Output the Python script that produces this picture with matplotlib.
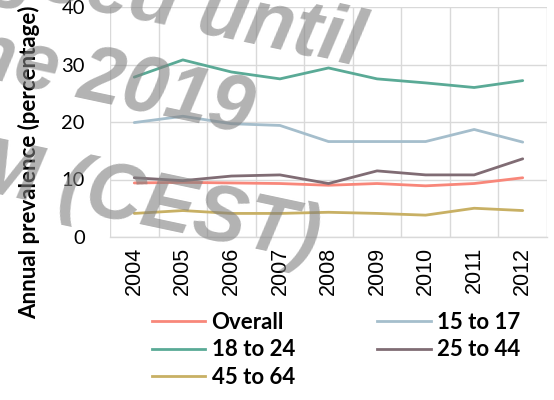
import math
import matplotlib
matplotlib.use("Agg")
import matplotlib.pyplot as plt
from matplotlib.lines import Line2D
from matplotlib import font_manager as fm
from matplotlib.textpath import TextToPath, TextPath

years = ["2004", "2005", "2006", "2007", "2008", "2009", "2010", "2011", "2012"]
overall = [9.4, 9.5, 9.4, 9.3, 9.0, 9.3, 8.9, 9.3, 10.3]
age_15_17 = [19.9, 21.0, 19.7, 19.4, 16.6, 16.6, 16.6, 18.7, 16.5]
age_18_24 = [27.8, 30.8, 28.7, 27.5, 29.4, 27.5, 26.8, 26.0, 27.2]
age_25_44 = [10.3, 9.8, 10.6, 10.8, 9.3, 11.5, 10.8, 10.8, 13.6]
age_45_64 = [4.1, 4.6, 4.1, 4.1, 4.3, 4.1, 3.8, 5.0, 4.6]

series = [
    ("Overall", overall, "#F8877A"),
    ("15 to 17", age_15_17, "#A5BECC"),
    ("18 to 24", age_18_24, "#5AAA96"),
    ("25 to 44", age_25_44, "#806C74"),
    ("45 to 64", age_45_64, "#C8B064"),
]

watermark_lines = ["Embargoed until", "June 2019", "11:00 AM (CEST)"]

W, H = 554, 400
DPI = 100
fig = plt.figure(figsize=(W / DPI, H / DPI), dpi=DPI)
ax = fig.add_axes([110 / W, 1 - 237 / H, 437 / W, 230 / H])

x = list(range(len(years)))
handles = {}
for name, vals, col in series:
    ax.plot(x, vals, color=col, lw=2.0, solid_capstyle="round", zorder=3)
    handles[name] = Line2D([0], [0], color=col, lw=2.0)

ax.set_xlim(-0.5, len(years) - 0.5)
ax.set_ylim(0, 40)
ax.set_yticks([0, 10, 20, 30, 40])
ax.set_xticks(x)
ax.set_xticklabels(years, rotation=90, fontsize=15.5, family="Liberation Sans")
ax.set_xticks([i - 0.5 for i in range(len(years) + 1)], minor=True)
for lab in ax.get_yticklabels():
    lab.set_family("Lato")
    lab.set_fontsize(14.5)
ax.tick_params(axis="y", length=0, pad=18)
ax.tick_params(axis="x", which="both", length=0, pad=7)
ax.grid(axis="y", which="major", color="#D9D9D9", lw=1.0)
ax.grid(axis="x", which="minor", color="#D9D9D9", lw=1.0)
ax.set_axisbelow(True)
for s in ["top", "right", "left"]:
    ax.spines[s].set_visible(False)
ax.spines["bottom"].set_color("#D9D9D9")
ax.spines["bottom"].set_linewidth(1.0)

fig.text(29 / W, 1 - 162 / H, "Annual prevalence (percentage)", rotation=90,
         ha="center", va="center", fontsize=16, fontweight="bold", family="Lato")

order = ["Overall", "18 to 24", "45 to 64", "15 to 17", "25 to 44"]
fig.legend([handles[k] for k in order], order, ncol=2, frameon=False,
           loc="center", bbox_to_anchor=(336 / W, 1 - 350 / H),
           prop={"family": "Lato", "weight": "bold", "size": 16},
           handlelength=2.4, handletextpad=0.3, columnspacing=3.7,
           labelspacing=0.3)

# ---- watermark (Arial-like bold italic, semi-transparent grey) ----
WM_SIZE = 57
WM_ROT = 12
wm_path = None
for f in fm.findSystemFonts():
    if "LiberationSans-BoldItalic" in f:
        wm_path = f
        break
if wm_path:
    wm_prop = fm.FontProperties(fname=wm_path, size=WM_SIZE)
else:
    wm_prop = fm.FontProperties(family="DejaVu Sans", weight="bold", style="italic",
                                size=WM_SIZE * 0.85)

em_px = WM_SIZE * DPI / 72.0
ARIAL_B = {"J": .556, "u": .611, "n": .611, "e": .556, " ": .278, "0": .556, "1": .556,
           "2": .556, "9": .556, "E": .667, "m": .889, "b": .611, "a": .556, "r": .389,
           "g": .611, "o": .611, "d": .611, "t": .333, "i": .278, "l": .278, ":": .333,
           "A": .722, "M": .833, "(": .333, "C": .722, "S": .667, "T": .611, ")": .333}


def glyph_offset_em(s, idx):
    try:
        ttp = TextToPath()
        font = ttp._get_font(wm_prop)
        info, _, _ = ttp.get_glyphs_with_font(font, s)
        if len(info) == len(s):
            return info[idx][1] / ttp.FONT_SCALE
    except Exception:
        pass
    return sum(ARIAL_B.get(c, .556) for c in s[:idx])


def lsb_px(s):
    try:
        return TextPath((0, 0), s, prop=wm_prop).get_extents().x0 * DPI / 72.0
    except Exception:
        return 0.0


def place_wm(s, idx, target):
    """Place string s so that the origin of glyph idx lands on target (pixels, y down)."""
    c, sn = math.cos(math.radians(WM_ROT)), math.sin(math.radians(WM_ROT))
    d = glyph_offset_em(s, idx) * em_px - lsb_px(s)
    ax_px = target[0] - d * c
    ay_px = target[1] - d * sn
    fig.text(ax_px / W, 1 - ay_px / H, s, fontproperties=wm_prop,
             color=(0.5, 0.5, 0.5), alpha=0.6, rotation=-WM_ROT,
             rotation_mode="anchor", ha="left", va="baseline", zorder=10)


place_wm(watermark_lines[0], watermark_lines[0].index("until"), (194, 31))
place_wm(watermark_lines[1], watermark_lines[1].index("2019"), (75, 97))
place_wm(watermark_lines[2], watermark_lines[2].index("T)"), (240, 245))

fig.savefig("out.png", dpi=DPI)
